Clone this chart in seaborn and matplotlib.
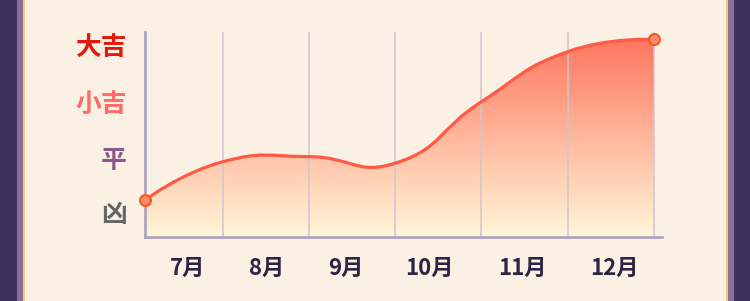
import numpy as np
import matplotlib
matplotlib.use("Agg")
import matplotlib.pyplot as plt
import seaborn as sns
import pandas as pd
from matplotlib.path import Path
from matplotlib.patches import PathPatch, Rectangle
from matplotlib.colors import LinearSegmentedColormap

# ---- data ----
months = ["7月", "8月", "9月", "10月", "11月", "12月"]
fortune_levels = ["凶", "平", "小吉", "大吉"]
level_values = [12.2, 39.0, 66.3, 93.7]
level_colors = ["#666666", "#8b5a8c", "#ff6b6b", "#e3170a"]
trend_x = [0.1, 1, 2, 3, 4, 5, 6]
trend_y = [18.0, 36.7, 39.2, 36.0, 66.0, 90.4, 96.4]

# label layout (month labels sit in a row with equal gaps)
month_label_pos = [0.590, 1.506, 2.422, 3.395, 4.477, 5.536]

sns.set_theme(style="white")
plt.rcParams["font.family"] = ["Noto Sans CJK SC", "DejaVu Sans"]

BG = "#faf0e4"
fig = plt.figure(figsize=(7.5, 3.01), dpi=100, facecolor=BG)
ax = fig.add_axes([145 / 750, 64 / 301, 517 / 750, 205 / 301])
ax.set_facecolor(BG)
unit = (654 - 135.7) / 6
XLIM = (0.1, (662 - 135.7) / unit)
ax.set_xlim(*XLIM)
ax.set_ylim(0, 100)

# border decoration
for x0, w, c in [(0, 17, "#40305f"), (17, 6, "#8a709f"), (23, 2, "#f3cf6c"),
                 (726, 2, "#f3cf6c"), (728, 6, "#8a709f"), (734, 16, "#40305f")]:
    fig.patches.append(Rectangle((x0 / 750, 0), w / 750, 1, transform=fig.transFigure,
                                 facecolor=c, edgecolor="none", zorder=0))

# smooth curve (spline with tension) computed in display space
pts = ax.transData.transform(np.column_stack([trend_x, trend_y]))
n = len(pts)
t = 0.5
cin, cout = [], []
for i in range(n):
    cur = pts[i]
    if i == 0 or i == n - 1:
        cin.append(cur.copy())
        cout.append(cur.copy())
        continue
    prev, nxt = pts[i - 1], pts[i + 1]
    d01 = np.hypot(*(cur - prev))
    d12 = np.hypot(*(nxt - cur))
    s01 = d01 / (d01 + d12)
    s12 = d12 / (d01 + d12)
    v = nxt - prev
    cin.append(cur - t * s01 * v)
    cout.append(cur + t * s12 * v)
verts = [pts[0]]
codes = [Path.MOVETO]
for i in range(1, n):
    verts += [cout[i - 1], cin[i], pts[i]]
    codes += [Path.CURVE4] * 3
inv = ax.transData.inverted()
verts_d = inv.transform(np.array(verts))
line_path = Path(verts_d, codes)

area_verts = list(verts_d) + [(trend_x[-1], 0), (trend_x[0], 0), (trend_x[0], trend_y[0])]
area_codes = codes + [Path.LINETO, Path.LINETO, Path.CLOSEPOLY]
area_path = Path(area_verts, area_codes)
area_patch = PathPatch(area_path, facecolor="none", edgecolor="none", transform=ax.transData)
ax.add_patch(area_patch)

cmap = LinearSegmentedColormap.from_list("grad", ["#fff6da", "#ffb89c", "#ff7660"])
grad = np.linspace(0, 1, 256).reshape(-1, 1)
im = ax.imshow(grad, cmap=cmap, origin="lower", aspect="auto",
               extent=[trend_x[0], trend_x[-1], 0, max(trend_y)], zorder=1)
im.set_clip_path(area_patch)
ax.set_xlim(*XLIM)
ax.set_ylim(0, 100)

# grid lines at month boundaries
ax.vlines(trend_x[1:], 0, 100, colors="#cfc5cf", linewidth=1.1, zorder=2)

ax.add_patch(PathPatch(line_path, facecolor="none", edgecolor="#ff5a45",
                       linewidth=2.3, zorder=4, capstyle="round"))

ends = pd.DataFrame({"x": [trend_x[0], trend_x[-1]], "y": [trend_y[0], trend_y[-1]]})
sns.scatterplot(data=ends, x="x", y="y", ax=ax, s=62, color="#ff8a6a",
                edgecolor="#f35a1f", linewidth=1.5, zorder=5, clip_on=False)
ax.set_xlabel("")
ax.set_ylabel("")
ax.set_xlim(*XLIM)
ax.set_ylim(0, 100)

# axes
for s in ["top", "right"]:
    ax.spines[s].set_visible(False)
for s in ["left", "bottom"]:
    ax.spines[s].set_color("#a9a1c1")
    ax.spines[s].set_linewidth(1.9)

ax.set_xticks(month_label_pos)
ax.set_xticklabels(months, fontsize=16, fontweight="bold", color="#2d2343")
ax.set_yticks(level_values)
ax.set_yticklabels(fortune_levels, fontsize=18.5, fontweight="bold")
for lab, c in zip(ax.get_yticklabels(), level_colors):
    lab.set_color(c)
ax.tick_params(axis="x", length=0, pad=14)
ax.tick_params(axis="y", length=0, pad=13)
ax.grid(False)

fig.savefig("out.png", dpi=100, facecolor=BG)
